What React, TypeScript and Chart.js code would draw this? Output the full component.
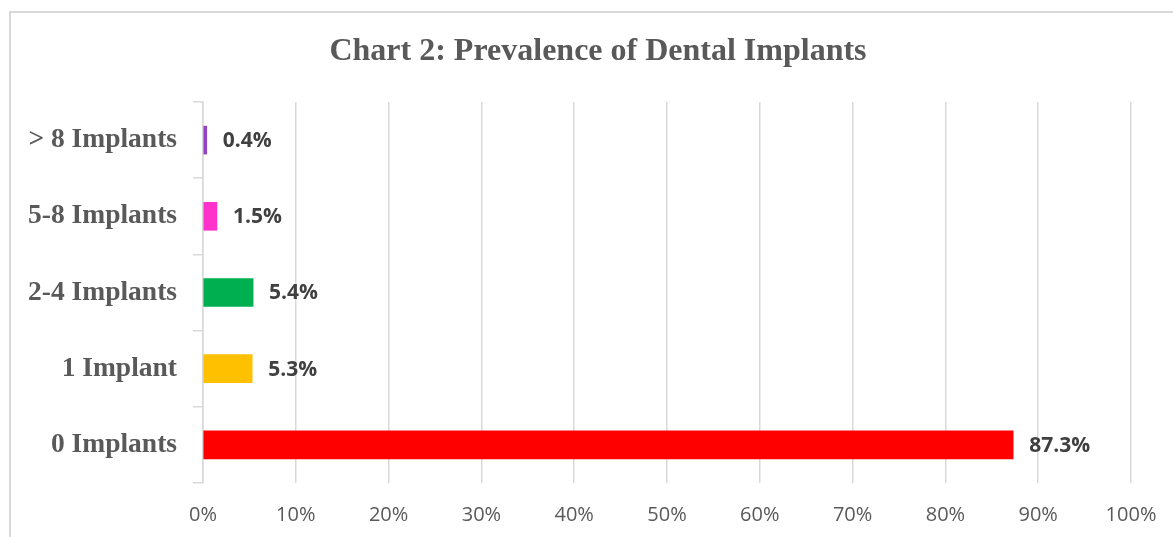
import React, { useEffect, useRef } from "react";
import { Chart, registerables } from "chart.js";

Chart.register(...registerables);

const categories = ["0 Implants", "1 Implant", "2-4 Implants", "5-8 Implants", "> 8 Implants"];
const values = [87.3, 5.3, 5.4, 1.5, 0.4];
const barColors = ["#FF0000", "#FFC000", "#00B050", "#FF33CC", "#9440C8"];
const xTicks = [0, 10, 20, 30, 40, 50, 60, 70, 80, 90, 100];
const titleText = "Chart 2: Prevalence of Dental Implants";

const W = 1173;
const H = 537;

const dataLabelPlugin = {
  id: "dataLabels",
  afterDatasetsDraw(chart: any) {
    const ctx = chart.ctx;
    const meta = chart.getDatasetMeta(0);
    ctx.save();
    ctx.font = "bold 21px 'Open Sans'";
    ctx.fillStyle = "#404040";
    ctx.textAlign = "left";
    ctx.textBaseline = "middle";
    meta.data.forEach((bar: any, i: number) => {
      const v = values[i];
      ctx.fillText(v.toFixed(1) + "%", bar.x + 16, bar.y + 1);
    });
    ctx.restore();
  },
};

const titlePlugin = {
  id: "customTitle",
  afterDraw(chart: any) {
    const ctx = chart.ctx;
    ctx.save();
    ctx.font = "bold 32px 'Liberation Serif'";
    ctx.fillStyle = "#595959";
    ctx.textAlign = "center";
    ctx.textBaseline = "middle";
    ctx.fillText(titleText, 598, 52);
    ctx.restore();
  },
};

export default function App() {
  const ref = useRef<HTMLCanvasElement | null>(null);

  useEffect(() => {
    if (!ref.current) return;
    const chart = new Chart(ref.current, {
      type: "bar",
      data: {
        labels: categories,
        datasets: [
          {
            data: values,
            backgroundColor: barColors,
            borderWidth: 0,
            barThickness: 28,
          },
        ],
      },
      options: {
        indexAxis: "y",
        responsive: false,
        animation: false,
        devicePixelRatio: 1,
        layout: { padding: { left: 0, right: 42, top: 102, bottom: 0 } },
        plugins: {
          legend: { display: false },
          tooltip: { enabled: false },
          title: { display: false },
        },
        scales: {
          x: {
            type: "linear",
            min: 0,
            max: 100,
            afterBuildTicks: (scale: any) => {
              scale.ticks = xTicks.map((v) => ({ value: v }));
            },
            afterFit: (scale: any) => {
              scale.height = H - 483;
              scale.paddingLeft = 0;
              scale.paddingRight = 0;
            },
            ticks: {
              color: "#595959",
              font: { family: "'Open Sans'", size: 20 },
              padding: 20,
              callback: (v: any) => v + "%",
            },
            grid: {
              color: "#d9d9d9",
              lineWidth: 1.5,
              drawTicks: false,
            },
            border: { display: false },
          },
          y: {
            type: "category",
            reverse: true,
            afterFit: (scale: any) => {
              scale.width = 203;
              scale.paddingTop = 0;
              scale.paddingBottom = 0;
            },
            ticks: {
              color: "#595959",
              font: { family: "'Liberation Serif'", size: 27.5, weight: "bold" },
              padding: 16,
            },
            grid: {
              drawOnChartArea: false,
              drawTicks: true,
              tickLength: 10,
              color: "#d9d9d9",
              lineWidth: 1.5,
              offset: true,
            },
            border: { display: true, color: "#d9d9d9", width: 1.5 },
          },
        },
      },
      plugins: [dataLabelPlugin, titlePlugin],
    });
    return () => chart.destroy();
  }, []);

  return (
    <div
      style={{
        position: "fixed",
        left: 0,
        top: 0,
        width: "100vw",
        height: "100vh",
        overflow: "hidden",
        background: "#ffffff",
      }}
    >
      <div
        style={{
          position: "absolute",
          left: 9,
          top: 11,
          width: 1400,
          height: 800,
          border: "2px solid #d9d9d9",
          boxSizing: "border-box",
        }}
      />
      <canvas
        ref={ref}
        width={W}
        height={H}
        style={{ position: "absolute", left: 0, top: 0, width: W, height: H }}
      />
    </div>
  );
}
